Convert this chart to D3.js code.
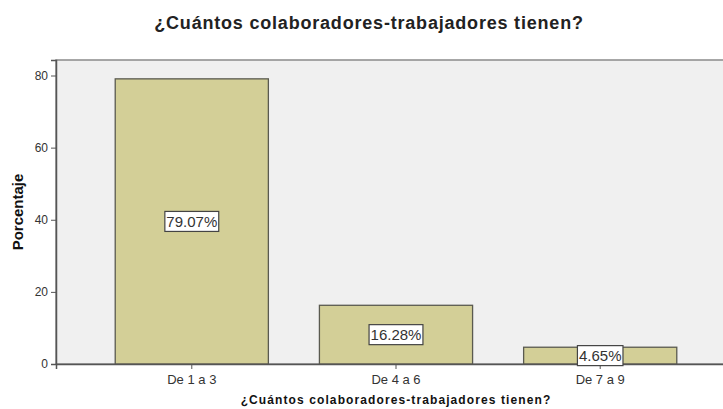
<!DOCTYPE html>
<html>
<head>
<meta charset="utf-8">
<script src="https://cdn.jsdelivr.net/npm/d3@7"></script>
<style>
  body { margin: 0; background: #fff; }
  svg { display: block; font-family: "Liberation Sans", Arial, sans-serif; }
</style>
</head>
<body>
<svg id="chart"></svg>
<script>
const categories = ["De 1 a 3", "De 4 a 6", "De 7 a 9"];
const percentages = [79.07, 16.28, 4.65];
const yTicks = [0, 20, 40, 60, 80];
const title = "¿Cuántos colaboradores-trabajadores tienen?";

const w = 723, h = 409;
const plot = { left: 56, right: 736, top: 60, bottom: 364 };

const svg = d3.select("#chart").attr("width", w).attr("height", h);

const x = d3.scaleBand()
	.domain(categories)
	.range([plot.left, plot.right])
	.paddingInner(0.25)
	.paddingOuter(0.29);

const y = d3.scaleLinear()
	.domain([0, 84.3])
	.range([plot.bottom, plot.top]);

// plot background
svg.append("rect")
	.attr("x", plot.left)
	.attr("y", plot.top)
	.attr("width", plot.right - plot.left)
	.attr("height", plot.bottom - plot.top)
	.attr("fill", "#f0f0f0")
	.attr("stroke", "#8a8a8a")
	.attr("stroke-width", 1.5);

// bars
svg.append("g").selectAll("rect")
	.data(percentages)
	.enter()
	.append("rect")
	.attr("x", (d, i) => x(categories[i]))
	.attr("y", d => y(d))
	.attr("width", x.bandwidth())
	.attr("height", d => plot.bottom - y(d))
	.attr("fill", "#d3cf97")
	.attr("stroke", "#5a5a50")
	.attr("stroke-width", 1.3);

// axes
const yAxis = svg.append("g")
	.attr("transform", `translate(${plot.left},0)`)
	.call(d3.axisLeft(y).tickValues(yTicks).tickSize(5).tickPadding(3).tickFormat(d3.format("d")));
yAxis.select(".domain").attr("stroke", "#555").attr("stroke-width", 1.5);
yAxis.selectAll(".tick line").attr("stroke", "#555");
yAxis.selectAll(".tick text")
	.attr("font-size", "12px")
	.attr("fill", "#333")
	.attr("font-family", "Liberation Sans, Arial, sans-serif");

const xAxis = svg.append("g")
	.attr("transform", `translate(0,${plot.bottom})`)
	.call(d3.axisBottom(x).tickSize(5).tickPadding(6));
xAxis.select(".domain").attr("stroke", "#555").attr("stroke-width", 1.5);
xAxis.selectAll(".tick line").attr("stroke", "#555");
xAxis.selectAll(".tick text")
	.attr("font-size", "13px")
	.attr("fill", "#333")
	.attr("font-family", "Liberation Sans, Arial, sans-serif");

// value labels
const labels = svg.append("g").selectAll("g")
	.data(percentages)
	.enter()
	.append("g")
	.attr("transform", (d, i) => `translate(${x(categories[i]) + x.bandwidth() / 2},${(y(d) + plot.bottom) / 2})`);

labels.append("text")
	.text(d => d.toFixed(2) + "%")
	.attr("text-anchor", "middle")
	.attr("dy", "0.36em")
	.attr("font-size", "15px")
	.attr("fill", "#333");

labels.each(function () {
	const g = d3.select(this);
	const bb = g.select("text").node().getBBox();
	g.insert("rect", "text")
		.attr("x", bb.x - 1.5)
		.attr("y", -10)
		.attr("width", bb.width + 3)
		.attr("height", 20)
		.attr("fill", "#fff")
		.attr("stroke", "#444")
		.attr("stroke-width", 1.2);
});

// titles
svg.append("text")
	.text(title)
	.attr("x", 369)
	.attr("y", 29)
	.attr("text-anchor", "middle")
	.attr("font-size", "18px")
	.attr("letter-spacing", "0.8px")
	.attr("font-weight", "bold")
	.attr("fill", "#222");

svg.append("text")
	.text(title)
	.attr("x", 396)
	.attr("y", 404)
	.attr("text-anchor", "middle")
	.attr("font-size", "12px")
	.attr("letter-spacing", "1.1px")
	.attr("font-weight", "bold")
	.attr("fill", "#111");

svg.append("text")
	.text("Porcentaje")
	.attr("transform", "translate(23,212) rotate(-90)")
	.attr("text-anchor", "middle")
	.attr("font-size", "15px")
	.attr("font-weight", "bold")
	.attr("fill", "#111");
</script>
</body>
</html>
